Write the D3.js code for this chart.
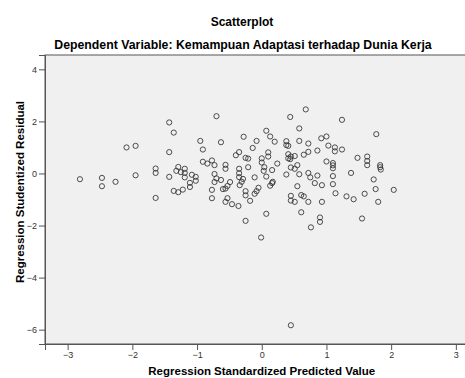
<!DOCTYPE html>
<html>
<head>
<meta charset="utf-8">
<script src="https://cdn.jsdelivr.net/npm/d3@7"></script>
<style>
  body { margin: 0; background: #fff; }
  text { font-family: Arial, "Liberation Sans", sans-serif; }
</style>
</head>
<body>
<div id="chart"></div>
<script>
// predicted values (standardized)
const predicted = [
  -2.81, -2.47, -2.47, -2.26, -2.09, -1.95, -1.95, -1.64, -1.64, -1.64,
  -1.43, -1.36, -1.43, -1.43, -1.32, -1.29, -1.25, -1.19, -1.19, -1.19,
  -1.08, -1.02, -1.02, -1.11, -1.11, -1.22, -1.29, -1.36, -0.95,
  -0.70, -0.91, -0.63, -0.91, -0.84, -0.77, -0.73, -0.56, -0.56, -0.28,
  -0.08, 0.07, 0.13, 0.20, -0.14, -0.35, -0.40, -0.25, -0.21, 0.10,
  0.10, 0.00, 0.00, 0.24, -0.21, -0.35, -0.35, -0.35, 0.03, 0.04,
  0.16, 0.07, -0.11, -0.29, -0.31, -0.34, -0.49, -0.53, -0.56, -0.60,
  -0.63, -0.73, -0.73, -0.70, -0.77, -0.77, -0.53, -0.56, -0.46, -0.36,
  -0.25, -0.25, -0.18, -0.11, -0.08, -0.05, 0.13, 0.16, 0.17, 0.07,
  -0.25, -0.01,
  0.44, 0.68, 0.58, 0.38, 0.38, 0.41, 0.58, 0.72, 0.92, 1.00,
  0.86, 0.72, 0.65, 0.41, 0.45, 0.41, 0.51, 0.44, 0.55, 0.45,
  0.51, 0.38, 0.58, 0.72, 0.75, 0.86, 0.82, 0.93, 0.55, 0.45,
  0.45, 0.51, 0.61, 0.65, 0.72, 0.93, 0.61, 0.90, 0.90, 0.76,
  1.00, 1.03, 1.24, 1.13, 1.13, 1.24, 1.77, 1.48, 1.63, 1.63,
  1.63, 1.83, 1.83, 1.84, 1.10, 1.10, 1.10, 1.38, 1.10, 1.10,
  1.14, 1.31, 1.42, 1.59, 1.73, 1.76, 2.04, 1.80, 1.55, 0.45
];
// studentized residuals, same order
const residual = [
  -0.22, -0.17, -0.49, -0.32, 1.00, 1.06, -0.07, 0.19, 0.02, -0.94,
  1.96, 1.57, 0.82, -0.13, 0.10, 0.25, 0.05, 0.18, 0.02, -0.15,
  -0.05, -0.13, -0.28, -0.36, -0.52, -0.62, -0.72, -0.67, 1.25,
  2.20, 0.92, 1.20, 0.45, 0.38, 0.50, 0.32, 0.33, 0.18, 1.41,
  1.25, 1.64, 1.42, 1.22, 0.98, 0.82, 0.70, 0.60, 0.57, 0.81,
  0.65, 0.58, 0.42, 0.38, 0.24, 0.18, 0.01, -0.14, 0.10, 0.24,
  0.13, -0.12, -0.15, -0.21, -0.32, -0.45, -0.33, -0.48, -0.58, -0.60,
  -0.25, -0.02, -0.33, -0.19, -0.63, -0.95, -0.95, -1.09, -1.18, -1.25,
  -0.68, -0.84, -1.05, -0.78, -0.68, -0.55, -0.47, -0.37, -0.32, -1.55,
  -1.82, -2.46,
  2.17, 2.46, 1.73, 1.24, 1.09, 1.06, 1.25, 1.15, 1.35, 1.42,
  0.88, 0.83, 0.72, 0.74, 0.65, 0.58, 0.67, 0.55, 0.32, 0.23,
  0.18, -0.04, -0.03, 0.02, -0.15, -0.08, -0.37, -0.45, -0.49, -0.86,
  -1.04, -1.09, -0.83, -0.88, -1.09, -1.09, -1.49, -1.69, -1.86, -2.07,
  0.46, 1.07, 2.06, 1.00, 0.85, 0.92, 1.51, 0.60, 0.65, 0.48,
  0.32, 0.32, 0.24, 0.15, 0.40, 0.31, 0.20, 0.02, -0.10, -0.41,
  -0.76, -0.88, -0.99, -0.78, -0.23, -0.60, -0.63, -1.09, -1.73, -5.83
];
const xTicks = [-3, -2, -1, 0, 1, 2, 3];
const yTicks = [-6, -4, -2, 0, 2, 4];

const title = "Scatterplot";
const subtitle = "Dependent Variable: Kemampuan Adaptasi terhadap Dunia Kerja";
const xTitle = "Regression Standardized Predicted Value";
const yTitle = "Regression Studentized Residual";

const width = 465, height = 378;
const plot = {left: 45, top: 55, right: 478.5, bottom: 344};

const svg = d3.select("#chart").append("svg")
  .attr("width", width)
  .attr("height", height);

const x = d3.scaleLinear().domain([-3.35, 3.35]).range([plot.left, plot.right]);
const y = d3.scaleLinear().domain([-6.55, 4.55]).range([plot.bottom, plot.top]);

// plot area
svg.append("rect")
  .attr("x", plot.left)
  .attr("y", plot.top)
  .attr("width", plot.right - plot.left)
  .attr("height", plot.bottom - plot.top)
  .attr("fill", "#f0f0f0")
  .attr("stroke", "#555")
  .attr("stroke-width", 1);

// axes
const xAxis = svg.append("g")
  .attr("transform", `translate(0,${plot.bottom})`)
  .call(d3.axisBottom(x).tickValues(xTicks).tickSize(6).tickPadding(2).tickFormat(d3.format("d")));
const yAxis = svg.append("g")
  .attr("transform", `translate(${plot.left},0)`)
  .call(d3.axisLeft(y).tickValues(yTicks).tickSize(6).tickPadding(2).tickFormat(d3.format("d")));

[xAxis, yAxis].forEach(a => {
  a.select(".domain").attr("stroke", "#555");
  a.selectAll(".tick line").attr("stroke", "#555");
  a.selectAll(".tick text")
    .attr("fill", "#333")
    .style("font-size", "9px")
    .style("font-family", "Arial, 'Liberation Sans', sans-serif");
});

// points
const points = predicted.map((p, i) => ({p: p, r: residual[i]}));
svg.append("g")
  .selectAll("circle")
  .data(points)
  .join("circle")
  .attr("cx", d => x(d.p))
  .attr("cy", d => y(d.r))
  .attr("r", 2.6)
  .attr("fill", "none")
  .attr("stroke", "#3a3a3a")
  .attr("stroke-width", 0.9);

// titles
svg.append("text")
  .attr("x", 242).attr("y", 26)
  .attr("text-anchor", "middle")
  .style("font-size", "12px").style("font-weight", "bold")
  .text(title);
svg.append("text")
  .attr("x", 243).attr("y", 49)
  .attr("text-anchor", "middle")
  .style("font-size", "12.3px").style("font-weight", "bold")
  .text(subtitle);
svg.append("text")
  .attr("x", (plot.left + plot.right) / 2).attr("y", 375)
  .attr("text-anchor", "middle")
  .style("font-size", "11.5px").style("font-weight", "bold")
  .text(xTitle);
svg.append("text")
  .attr("transform", "translate(24,192) rotate(-90)")
  .attr("text-anchor", "middle")
  .style("font-size", "11.5px").style("font-weight", "bold")
  .text(yTitle);
</script>
</body>
</html>
